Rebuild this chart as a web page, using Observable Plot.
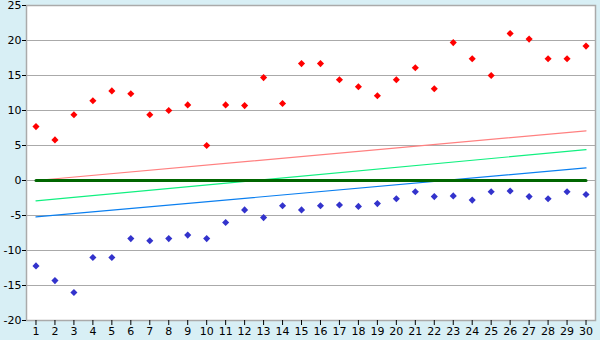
<!DOCTYPE html>
<html>
<head>
<meta charset="utf-8">
<script src="https://cdn.jsdelivr.net/npm/d3@7"></script>
<script src="https://cdn.jsdelivr.net/npm/@observablehq/plot@0.6"></script>
<style>
  html, body { margin: 0; padding: 0; background: #d8eff5; }
  #chart { width: 600px; height: 340px; }
</style>
</head>
<body>
<div id="chart"></div>
<script>
const days = [1,2,3,4,5,6,7,8,9,10,11,12,13,14,15,16,17,18,19,20,21,22,23,24,25,26,27,28,29,30];
const redValues = [7.7,5.8,9.4,11.4,12.8,12.4,9.4,10.0,10.8,5.0,10.8,10.7,14.7,11.0,16.7,16.7,14.4,13.4,12.1,14.4,16.1,13.1,19.7,17.4,15.0,21.0,20.2,17.4,17.4,19.2];
const blueValues = [-12.2,-14.3,-16.0,-11.0,-11.0,-8.3,-8.6,-8.3,-7.8,-8.3,-6.0,-4.2,-5.3,-3.6,-4.2,-3.6,-3.5,-3.7,-3.3,-2.6,-1.6,-2.3,-2.2,-2.8,-1.6,-1.5,-2.3,-2.6,-1.6,-2.0];
const trendX = [1, 30];
const redTrend = [0.0, 7.1];
const greenTrend = [-2.9, 4.4];
const blueTrend = [-5.2, 1.8];
const zeroLine = [0, 0];
const yTicks = [-20,-15,-10,-5,0,5,10,15,20,25];

const redPts = days.map((d, i) => ({x: d, y: redValues[i]}));
const bluePts = days.map((d, i) => ({x: d, y: blueValues[i]}));
const line = (vals) => trendX.map((x, i) => ({x, y: vals[i]}));

const chart = Plot.plot({
  width: 600,
  height: 340,
  marginLeft: 26,
  marginRight: 5,
  marginTop: 5,
  marginBottom: 20,
  style: {background: "#d8eff5", fontFamily: "DejaVu Sans, Verdana, sans-serif", fontSize: "11px", color: "black"},
  x: {domain: [0.5, 30.5], ticks: days, tickFormat: d => String(d), label: null},
  y: {domain: [-20, 25], ticks: yTicks, label: null},
  marks: [
    Plot.frame({fill: "white", stroke: "none"}),
    Plot.gridY(yTicks, {stroke: "#aaaaaa", strokeOpacity: 1}),
    Plot.frame({stroke: "#aaaaaa", strokeWidth: 1.5}),
    Plot.axisY({ticks: yTicks, tickSize: 4, tickPadding: 1, tickFormat: d => String(d), stroke: "black", fill: "black", label: null}),
    Plot.axisX({ticks: days, tickSize: 5, tickPadding: 2, tickFormat: d => String(d), stroke: "black", fill: "black", label: null}),
    Plot.line(line(redTrend), {x: "x", y: "y", stroke: "#ff8080", strokeWidth: 1.2}),
    Plot.line(line(greenTrend), {x: "x", y: "y", stroke: "#11f080", strokeWidth: 1.2}),
    Plot.line(line(blueTrend), {x: "x", y: "y", stroke: "#0a7ff0", strokeWidth: 1.2}),
    Plot.line(line(zeroLine), {x: "x", y: "y", stroke: "#006600", strokeWidth: 3}),
    Plot.dot(redPts, {x: "x", y: "y", symbol: "diamond2", r: 3.2, fill: "#ff0000", stroke: "none"}),
    Plot.dot(bluePts, {x: "x", y: "y", symbol: "diamond2", r: 3.2, fill: "#3333cc", stroke: "none"})
  ]
});
document.getElementById("chart").appendChild(chart);
</script>
</body>
</html>
